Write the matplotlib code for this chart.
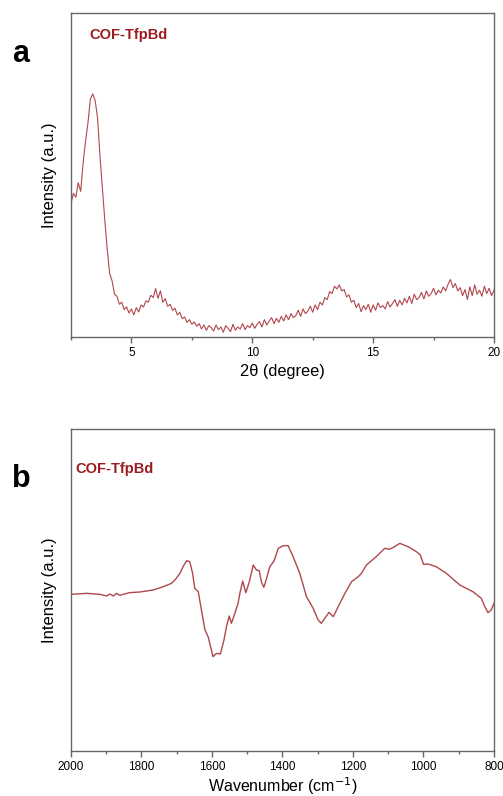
import numpy as np
import matplotlib
matplotlib.use("Agg")
import matplotlib.pyplot as plt

plt.rcParams['font.family'] = ['Liberation Sans', 'DejaVu Sans']

# ---- (a) PXRD, 2theta from 2.5 to 20.0 in 0.1 steps ----
xrd_start, xrd_step = 2.5, 0.1
xrd_int = [
    400, 430, 418, 462, 436,                                 # 2.5 - 2.9
    520, 585, 640, 712, 728, 708, 655, 540, 445, 348,        # 3.0 - 3.9
    262, 190, 168, 128, 122, 98, 104, 82, 90, 72,            # 4.0
    84, 66, 88, 75, 96, 90, 108, 104, 125, 118,              # 5.0
    145, 116, 138, 104, 115, 92, 98, 80, 86, 66,             # 6.0
    74, 55, 60, 44, 52, 38, 45, 32, 40, 24,                  # 7.0
    36, 20, 34, 28, 18, 36, 22, 30, 14, 34,                  # 8.0
    26, 16, 38, 20, 30, 24, 40, 22, 34, 28,                  # 9.0
    42, 26, 38, 46, 30, 52, 36, 48, 58, 40,                  # 10.0
    56, 44, 62, 48, 66, 52, 70, 58, 64, 80,                  # 11.0
    62, 84, 70, 78, 92, 74, 96, 82, 104, 96,                 # 12.0
    118, 112, 136, 130, 152, 144, 156, 138, 142, 120,        # 13.0
    126, 104, 110, 88, 100, 76, 94, 82, 98, 74,              # 14.0
    96, 80, 102, 88, 94, 84, 106, 90, 100, 112,              # 15.0
    92, 110, 96, 116, 102, 122, 100, 128, 112, 118,          # 16.0
    134, 114, 138, 122, 130, 146, 126, 140, 132, 150,        # 17.0
    138, 158, 172, 148, 160, 138, 148, 124, 142, 112,        # 18.0
    150, 124, 156, 128, 140, 122, 152, 130, 146, 124,        # 19.0
    140,                                                     # 20.0
]
two_theta = xrd_start + xrd_step * np.arange(len(xrd_int))

# ---- (b) FTIR ----
wavenumber = [2000, 1956, 1918, 1899, 1890, 1880, 1871, 1862, 1834, 1805,
              1767, 1738, 1715, 1705, 1691, 1682, 1672, 1663, 1655, 1649,
              1639, 1630, 1620, 1611, 1604, 1597, 1587, 1576, 1566, 1559,
              1551, 1545, 1535, 1526, 1521, 1513, 1504, 1494, 1483, 1474,
              1466, 1460, 1453, 1445, 1436, 1424, 1412, 1398, 1384, 1370,
              1351, 1332, 1313, 1299, 1290, 1280, 1268, 1256, 1242, 1223,
              1204, 1185, 1176, 1162, 1134, 1110, 1096, 1082, 1067, 1044,
              1020, 1009, 1000, 987, 964, 935, 897, 860, 836, 826,
              817, 808, 800]
ftir_int = [470, 473, 470, 465, 471, 465, 473, 467, 475, 477,
            483, 493, 503, 513, 533, 553, 571, 568, 533, 488,
            478, 423, 363, 343, 313, 283, 293, 291, 333, 373,
            405, 383, 413, 443, 473, 510, 475, 508, 558, 543,
            541, 508, 491, 518, 553, 570, 608, 616, 616, 583,
            533, 463, 428, 393, 383, 398, 416, 403, 433, 473,
            508, 523, 533, 558, 583, 608, 605, 613, 623, 613,
            598, 588, 560, 561, 553, 533, 498, 478, 458, 433,
            415, 423, 443]

line_col = '#b0474c'
text_col = '#9b1c20'
frame_col = '#666666'

fig = plt.figure(figsize=(5.03, 7.96), dpi=100)
ax1 = fig.add_axes([71/503, 1-337/796, 423/503, 324/796])
ax2 = fig.add_axes([71/503, 1-751/796, 423/503, 322/796])

ax1.plot(two_theta, xrd_int, color=line_col, lw=0.8)
ax1.set_xlim(2.5, 20)
ax1.set_ylim(0, 970)
ax1.set_xticks([5, 10, 15, 20])
ax1.set_xticks([2.5, 7.5, 12.5, 17.5], minor=True)
ax1.set_xlabel('2θ (degree)', fontsize=11.8, labelpad=4)

ax2.plot(wavenumber, ftir_int, color=line_col, lw=1.0)
ax2.set_xlim(2000, 800)
ax2.set_ylim(0, 966)
ax2.set_xticks([2000, 1800, 1600, 1400, 1200, 1000, 800])
ax2.set_xticks([1900, 1700, 1500, 1300, 1100, 900], minor=True)
ax2.set_xlabel('Wavenumber (cm$^{-1}$)', fontsize=11.5, labelpad=2)

for ax in (ax1, ax2):
    ax.set_yticks([])
    ax.set_ylabel('Intensity (a.u.)', fontsize=12, labelpad=10)
    for s in ax.spines.values():
        s.set_color(frame_col)
        s.set_linewidth(1.0)
    ax.tick_params(axis='x', which='major', direction='out', length=4,
                   width=1.0, color=frame_col, labelsize=8.5, pad=3)
    ax.tick_params(axis='x', which='minor', direction='out', length=2.5,
                   width=1.0, color=frame_col)

fig.text(12/503, 1-62/796, 'a', fontsize=22, fontweight='bold', ha='left', va='baseline')
fig.text(12/503, 1-487/796, 'b', fontsize=22, fontweight='bold', ha='left', va='baseline')
fig.text(89/503, 1-39/796, 'COF-TfpBd', fontsize=10.5, fontweight='bold',
         color=text_col, ha='left', va='baseline')
fig.text(75/503, 1-473/796, 'COF-TfpBd', fontsize=10.5, fontweight='bold',
         color=text_col, ha='left', va='baseline')

fig.savefig('out.png', dpi=100)
